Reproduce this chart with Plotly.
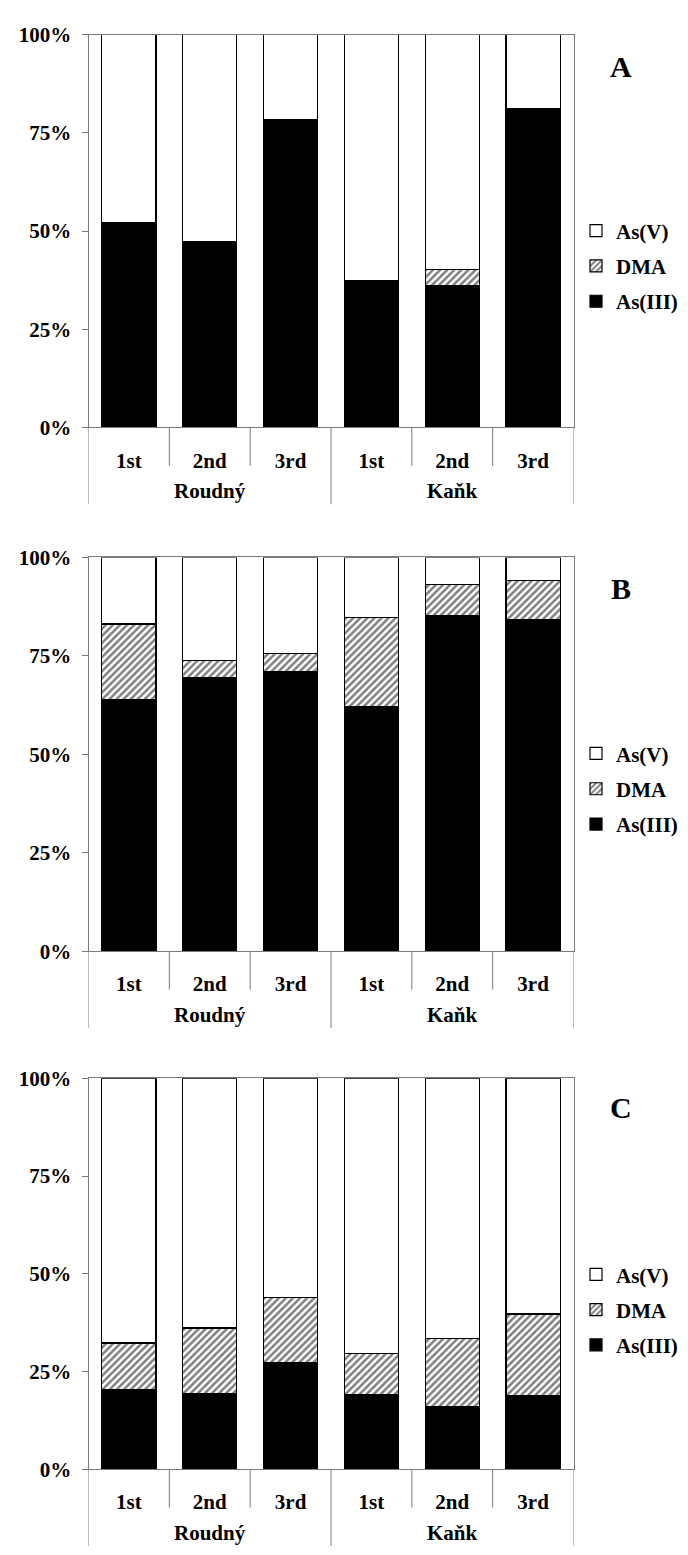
import plotly.graph_objects as go

# ---- data (percent of total As) ----
groups = ["Roudný", "Roudný", "Roudný", "Kaňk", "Kaňk", "Kaňk"]
samples = ["1st", "2nd", "3rd", "1st", "2nd", "3rd"]
series_names = ["As(III)", "DMA", "As(V)"]
panel_letters = ["A", "B", "C"]

as3_A = [52.1, 47.4, 78.5, 37.5, 36.0, 81.1]
dma_A = [0.0, 0.0, 0.0, 0.0, 4.2, 0.0]
asv_A = [47.9, 52.6, 21.5, 62.5, 59.8, 18.9]

as3_B = [63.8, 69.6, 71.0, 62.2, 85.3, 84.3]
dma_B = [19.3, 4.3, 4.7, 22.6, 7.9, 9.9]
asv_B = [16.9, 26.1, 24.3, 15.2, 6.8, 5.8]

as3_C = [20.4, 19.3, 27.2, 19.0, 15.9, 18.9]
dma_C = [11.9, 16.8, 16.7, 10.5, 17.5, 20.8]
asv_C = [67.7, 63.9, 56.1, 70.5, 66.6, 60.3]

y_tick_vals = [0, 25, 50, 75, 100]
y_tick_text = ["0%", "25%", "50%", "75%", "100%"]

# ---- layout geometry (pixels) ----
W, H = 688, 1555
x_left, x_right = 88.5, 573.5
panel_px = [(23, 422), (554, 954), (1083, 1480)]
letter_y_px = [55, 586, 1113]
legend_mid_px = [258, 789, 1318]
SHORT_SEP = 39   # px below axis
LONG_SEP = 78
GROUP_LABEL = 65

FONT = "Liberation Serif"
GRAY = "#7a7a7a"
FS = 21

def py(p):
    return 1 - p / H

cat_keys = [f"{g}|{s}" for g, s in zip(groups, samples)]

# group boundaries & centres from the category lists
group_bounds = [-0.5]
group_centres = []
start = 0
for k in range(1, len(groups) + 1):
    if k == len(groups) or groups[k] != groups[k - 1]:
        group_bounds.append(k - 0.5)
        group_centres.append(((start + k - 1) / 2, groups[k - 1]))
        start = k
inner_bounds = [k + 0.5 for k in range(len(groups) - 1) if (k + 0.5) not in group_bounds]

fig = go.Figure()
panels = [(as3_A, dma_A, asv_A), (as3_B, dma_B, asv_B), (as3_C, dma_C, asv_C)]
for i, (a3, dm, av) in enumerate(panels):
    n = i + 1
    xa = "x" if n == 1 else f"x{n}"
    ya = "y" if n == 1 else f"y{n}"
    leg = "legend" if n == 1 else f"legend{n}"
    fig.add_bar(x=cat_keys, y=a3, name=series_names[0], xaxis=xa, yaxis=ya, legend=leg,
                legendgroup=f"p{n}a", legendrank=3,
                marker=dict(color="black", line=dict(color="black", width=1.2)))
    fig.add_bar(x=cat_keys, y=dm, name=series_names[1], xaxis=xa, yaxis=ya, legend=leg,
                legendgroup=f"p{n}b", legendrank=2,
                marker=dict(color="white",
                            pattern=dict(shape="/", fgcolor="black", bgcolor="white",
                                         size=5, solidity=0.5),
                            line=dict(color="black", width=1.2)))
    fig.add_bar(x=cat_keys, y=av, name=series_names[2], xaxis=xa, yaxis=ya, legend=leg,
                legendgroup=f"p{n}c", legendrank=1,
                marker=dict(color="white", line=dict(color="black", width=1.2)))

layout = dict(
    width=W, height=H, margin=dict(l=0, r=0, t=0, b=0),
    paper_bgcolor="white", plot_bgcolor="white",
    barmode="stack", bargap=0.33, showlegend=True,
    font=dict(family=FONT, size=FS, color="black", weight="bold"),
)
annotations = []
shapes = []
for i in range(3):
    n = i + 1
    top, bot = panel_px[i]
    ph = bot - top
    xk = "xaxis" if n == 1 else f"xaxis{n}"
    yk = "yaxis" if n == 1 else f"yaxis{n}"
    lk = "legend" if n == 1 else f"legend{n}"
    xr = "x" if n == 1 else f"x{n}"
    yd = ("y" if n == 1 else f"y{n}") + " domain"
    layout[xk] = dict(
        domain=[x_left / W, x_right / W],
        anchor="y" if n == 1 else f"y{n}",
        type="category", range=[-0.5, len(cat_keys) - 0.5],
        tickvals=cat_keys, ticktext=samples,
        showline=True, linecolor=GRAY, linewidth=1, mirror=True,
        ticks="", ticklabelstandoff=14,
        tickfont=dict(family=FONT, size=FS, color="black", weight="bold"),
        showgrid=False, zeroline=False,
    )
    layout[yk] = dict(
        domain=[py(bot), py(top)],
        anchor="x" if n == 1 else f"x{n}",
        range=[0, 100], tickvals=y_tick_vals, ticktext=y_tick_text,
        showline=True, linecolor=GRAY, linewidth=1, mirror=True,
        ticks="outside", ticklen=6, tickcolor=GRAY, tickwidth=1,
        ticklabelstandoff=6,
        tickfont=dict(family=FONT, size=FS, color="black", weight="bold"),
        showgrid=False, zeroline=False,
    )
    layout[lk] = dict(
        x=576 / W, xanchor="left", y=py(legend_mid_px[i]), yanchor="middle",
        traceorder="grouped", tracegroupgap=5,
        font=dict(family=FONT, size=FS, color="black", weight="bold"),
        bgcolor="rgba(0,0,0,0)", itemwidth=30,
    )
    annotations.append(dict(
        xref="paper", yref="paper", x=621 / W, y=py(letter_y_px[i]),
        xanchor="center", yanchor="middle",
        text=panel_letters[i], showarrow=False,
        font=dict(family=FONT, size=30, color="black", weight="bold"),
    ))
    for cx, gname in group_centres:
        annotations.append(dict(
            xref=xr, yref=yd, x=cx, y=-GROUP_LABEL / ph,
            xanchor="center", yanchor="middle", text=gname, showarrow=False,
            font=dict(family=FONT, size=FS, color="black", weight="bold"),
        ))
    for b in inner_bounds:
        shapes.append(dict(type="line", xref=xr, yref=yd, x0=b, x1=b,
                           y0=0, y1=-SHORT_SEP / ph, line=dict(color=GRAY, width=1)))
    for b in group_bounds:
        shapes.append(dict(type="line", xref=xr, yref=yd, x0=b, x1=b,
                           y0=0, y1=-LONG_SEP / ph, line=dict(color=GRAY, width=1)))
layout["annotations"] = annotations
layout["shapes"] = shapes
fig.update_layout(**layout)
fig.write_html("out.html")
